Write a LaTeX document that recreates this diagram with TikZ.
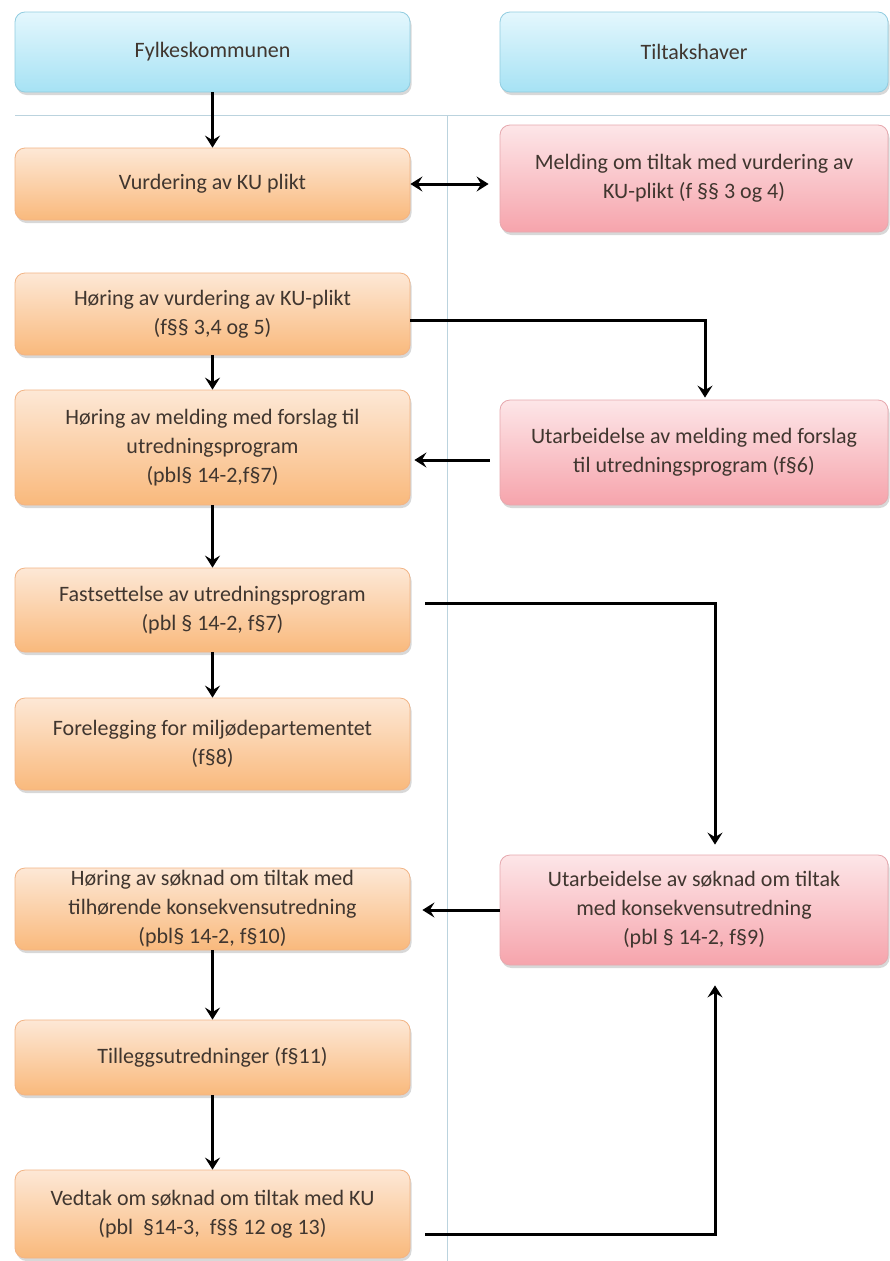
\documentclass[tikz,border=0pt]{standalone}
\usepackage{fontspec}
\setmainfont{Carlito}
\usetikzlibrary{arrows.meta,shadows,positioning}
\definecolor{txt}{HTML}{40362F}
\definecolor{otop}{HTML}{FDE8D6}
\definecolor{obot}{HTML}{F9B97C}
\definecolor{oline}{HTML}{F2B485}
\definecolor{ptop}{HTML}{FDE6E8}
\definecolor{pbot}{HTML}{F6A4AC}
\definecolor{pline}{HTML}{E6A8AE}
\definecolor{ctop}{HTML}{E4F7FD}
\definecolor{cbot}{HTML}{A6E2F4}
\definecolor{cline}{HTML}{92CDE0}
\definecolor{sep}{HTML}{BBD3DE}
\tikzset{
  basebox/.style={rounded corners=10pt, inner sep=0pt, align=center, text=txt,
    font=\fontsize{22}{29}\selectfont,
    drop shadow={shadow xshift=1.5pt, shadow yshift=-3pt, opacity=0.3}},
  obox/.style={basebox, top color=otop, bottom color=obot, draw=oline, line width=0.8pt,
    minimum width=395pt},
  pbox/.style={basebox, top color=ptop, bottom color=pbot, draw=pline, line width=0.8pt,
    minimum width=388pt},
  cbox/.style={basebox, top color=ctop, bottom color=cbot, draw=cline, line width=0.8pt},
  flow/.style={line width=3pt, -{Stealth[length=12pt,width=15pt,inset=4.5pt]}},
  flowboth/.style={line width=3pt, {Stealth[length=12pt,width=15pt,inset=4.5pt]}-{Stealth[length=12pt,width=15pt,inset=4.5pt]}},
  sepline/.style={draw=sep, line width=1pt}
}
\begin{document}
\begin{tikzpicture}[x=1pt,y=-1pt]
\useasboundingbox (0,0) rectangle (890,1261);
\fill[white] (0,0) rectangle (890,1261);
% separators
\coordinate (sl) at (15,115);
\coordinate (sr) at (890,115);
\coordinate (vt) at (447,115);
\coordinate (vb) at (447,1261);
\draw[sepline] (sl) -- (sr);
\draw[sepline] (vt) -- (vb);
% headers
\node[cbox, minimum width=395pt, minimum height=80pt] (h1) at (212.5,52) {Fylkeskommunen};
\node[cbox, minimum width=388pt, minimum height=80pt] (h2) at (694,52) {Tiltakshaver};
% left column
\node[obox, minimum height=72pt] (b1) at (212.5,184) {Vurdering av KU plikt};
\node[obox, minimum height=82pt] (b2) at (212.5,314) {Høring av vurdering av KU-plikt\\(f§§ 3,4 og 5)};
\node[obox, minimum height=115pt] (b3) at (212.5,447.5) {Høring av melding med forslag til\\utredningsprogram\\(pbl§ 14-2,f§7)};
\node[obox, minimum height=84pt] (b4) at (212.5,610) {Fastsettelse av utredningsprogram\\(pbl § 14-2, f§7)};
\node[obox, minimum height=92pt] (b5) at (212.5,744) {Forelegging for miljødepartementet\\(f§8)};
\node[obox, minimum height=82pt] (b6) at (212.5,909) {Høring av søknad om tiltak med\\tilhørende konsekvensutredning\\(pbl§ 14-2, f§10)};
\node[obox, minimum height=75pt] (b7) at (212.5,1057.5) {Tilleggsutredninger (f§11)};
\node[obox, minimum height=88pt] (b8) at (212.5,1214) {Vedtak om søknad om tiltak med KU\\(pbl\ \ §14-3,\ \ f§§ 12 og 13)};
% right column
\node[pbox, minimum height=107pt] (p1) at (694,178.5) {Melding om tiltak med vurdering av\\KU-plikt (f §§ 3 og 4)};
\node[pbox, minimum height=105pt] (p2) at (694,452.5) {Utarbeidelse av melding med forslag\\til utredningsprogram (f§6)};
\node[pbox, minimum height=110pt] (p3) at (694,910) {Utarbeidelse av søknad om tiltak\\med konsekvensutredning\\(pbl § 14-2, f§9)};
% helper coordinates
\coordinate (p2w) at ([xshift=-10pt,yshift=-7.5pt]p2.west);
\coordinate (b3e) at ([xshift=4pt]b3.east);
\coordinate (p3w) at (p3.west);
\coordinate (b6e) at ([xshift=12pt]b6.east);
% arrows
\draw[flow] (h1.south) -- (b1.north);
\draw[flowboth] (b1.east) -- ([xshift=-11pt]b1.east -| p1.west);
\draw[flow] ([yshift=-6pt]b2.east) -| ([xshift=11pt,yshift=2pt]p2.north);
\draw[flow] (b2.south) -- (b3.north);
\draw[flow] (p2w) -- (b3e |- p2w);
\draw[flow] (b3.south) -- (b4.north);
\draw[flow] ([xshift=15pt,yshift=7pt]b4.east) -| ([xshift=21pt,yshift=10pt]p3.north);
\draw[flow] (b4.south) -- (b5.north);
\draw[flow] (p3w) -- (b6e |- p3w);
\draw[flow] (b6.south) -- (b7.north);
\draw[flow] (b7.south) -- (b8.north);
\draw[flow] ([xshift=15pt,yshift=-20pt]b8.east) -| ([xshift=21pt,yshift=-20pt]p3.south);
\end{tikzpicture}
\end{document}
